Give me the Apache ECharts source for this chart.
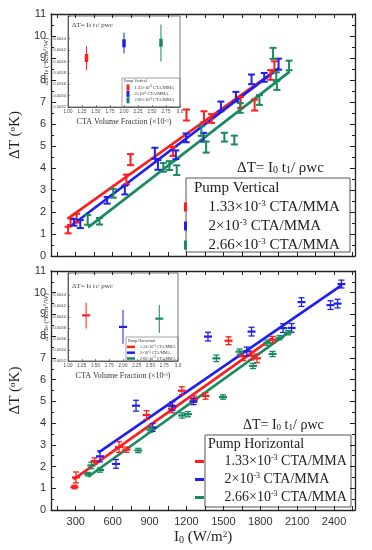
<!DOCTYPE html>
<html><head><meta charset="utf-8">
<script src="https://cdn.jsdelivr.net/npm/echarts@6/dist/echarts.min.js"></script>
<style>html,body{margin:0;padding:0;background:#fff}#c{width:372px;height:550px}</style>
</head><body><div id="c"></div>
<script>
// ---------------- data ----------------
const xTickLabels = [300, 600, 900, 1200, 1500, 1800, 2100, 2400];
const xTickMarks = [150, 300, 450, 600, 750, 900, 1050, 1200, 1350, 1500, 1650, 1800, 1950, 2100, 2250, 2400, 2550];
const insetYLabels = [0.0032, 0.0034, 0.0036, 0.0038, 0.0040, 0.0042, 0.0044, 0.0046];
const seriesKeys = ['c1', 'c2', 'c3'];
const seriesLabels = ['1.33×10{sup|-3} CTA/MMA', '2×10{sup|-3} CTA/MMA', '2.66×10{sup|-3} CTA/MMA'];

// Pump Vertical (top)
const vRedI = [238, 258, 307, 712, 745, 1090, 1200, 1342, 1404, 1640, 1754, 1884, 1915];
const vRedT = [1.18, 1.56, 1.72, 3.48, 4.38, 4.75, 6.41, 6.33, 6.25, 6.98, 6.86, 8.23, 8.6];
const vRedE = [0.15, 0.15, 0.2, 0.22, 0.25, 0.2, 0.25, 0.25, 0.2, 0.25, 0.25, 0.22, 0.25];
const vBlueI = [285, 337, 555, 699, 943, 968, 1114, 1197, 1340, 1480, 1602, 1729, 1832, 1949];
const vBlueT = [1.53, 1.45, 2.53, 3.0, 4.67, 4.14, 4.6, 5.37, 5.4, 6.8, 7.24, 8.03, 8.12, 8.72];
const vBlueE = [0.15, 0.18, 0.15, 0.2, 0.25, 0.22, 0.2, 0.2, 0.2, 0.22, 0.22, 0.22, 0.2, 0.25];
const vGreenI = [397, 493, 605, 1012, 1061, 1121, 1321, 1360, 1508, 1589, 1637, 1793, 1904, 1930, 1935, 2034];
const vGreenT = [1.64, 1.58, 2.85, 4.03, 4.11, 3.9, 5.68, 4.95, 5.4, 5.27, 6.73, 7.09, 9.21, 8.15, 7.77, 8.66];
const vGreenE = [0.22, 0.15, 0.2, 0.2, 0.2, 0.22, 0.22, 0.25, 0.2, 0.2, 0.22, 0.22, 0.25, 0.2, 0.22, 0.22];
const vFitRedI = [238, 1935], vFitRedT = [1.71, 8.48];
const vFitBlueI = [271, 1949], vFitBlueT = [1.41, 8.53];
const vFitGreenI = [401, 2039], vFitGreenT = [1.3, 8.38];

// Pump Horizontal (bottom)
const hRedI = [290, 302, 453, 652, 712, 876, 1082, 1163, 1262, 1355, 1542, 1660, 1729, 1773, 1900];
const hRedT = [1.06, 1.5, 2.25, 2.9, 2.78, 4.37, 4.66, 5.49, 5.1, 5.25, 7.79, 7.08, 7.11, 6.98, 7.84];
const hRedE = [0.08, 0.25, 0.15, 0.25, 0.12, 0.2, 0.18, 0.18, 0.15, 0.15, 0.18, 0.2, 0.2, 0.2, 0.15];
const hBlueI = [497, 627, 790, 925, 1085, 1257, 1375, 1690, 1729, 1985, 2055, 2135, 2371, 2428, 2460];
const hBlueT = [2.47, 2.12, 4.8, 3.8, 4.78, 5.0, 7.98, 7.3, 8.21, 8.37, 8.38, 9.57, 9.43, 9.5, 10.4];
const hBlueE = [0.25, 0.2, 0.25, 0.18, 0.2, 0.15, 0.2, 0.2, 0.2, 0.2, 0.2, 0.2, 0.2, 0.2, 0.18];
const hGreenI = [401, 427, 497, 808, 905, 1165, 1212, 1443, 1497, 1632, 1741, 1858, 1900, 1957, 2027];
const hGreenT = [1.65, 2.05, 1.84, 2.74, 3.7, 4.35, 4.41, 6.98, 5.2, 7.29, 6.63, 7.7, 7.18, 7.93, 8.16];
const hGreenE = [0.08, 0.15, 0.1, 0.1, 0.12, 0.12, 0.12, 0.15, 0.1, 0.12, 0.12, 0.12, 0.12, 0.1, 0.1];
const hFitRedI = [282, 1897], hFitRedT = [1.41, 7.9];
const hFitBlueI = [484, 2462], hFitBlueT = [2.64, 10.35];
const hFitGreenI = [401, 2039], hFitGreenT = [1.53, 8.21];

// Insets: ΔT/I0 vs CTA volume fraction
const insetFrac = [1.33, 2.0, 2.66];
const vInsetMean = [0.00406, 0.00432, 0.00433];
const vInsetLow = [0.00385, 0.00414, 0.00400];
const vInsetHigh = [0.00427, 0.00451, 0.00465];
const hInsetMean = [0.00403, 0.00382, 0.00397];
const hInsetLow = [0.00379, 0.00351, 0.00371];
const hInsetHigh = [0.00426, 0.00413, 0.00422];

// ---------------- styling ----------------
const COLORS = ['#ff1c1c', '#1f1ff0', '#178a5e'];
const SERIF = 'Liberation Serif';
const SANS = 'Liberation Sans';
const AX = '#222';

function labelOf(name) { return seriesLabels[seriesKeys.indexOf(name)]; }

function errSeries(name, I, T, E, color, xi, yi, st) {
  return {
    type: 'custom', name: name, xAxisIndex: xi, yAxisIndex: yi,
    itemStyle: { color: color }, encode: { x: 0, y: 1 },
    data: I.map((v, i) => [v, T[i], E[i]]),
    renderItem: function (params, api) {
      const x = api.value(0), y = api.value(1), e = api.value(2);
      const c = api.coord([x, y]), hi = api.coord([x, y + e]), lo = api.coord([x, y - e]);
      const ls = { stroke: color, lineWidth: st.lw };
      const ch = [
        { type: 'line', shape: { x1: c[0], y1: hi[1], x2: c[0], y2: lo[1] }, style: ls },
        { type: 'line', shape: { x1: c[0] - st.cap, y1: hi[1], x2: c[0] + st.cap, y2: hi[1] }, style: ls },
        { type: 'line', shape: { x1: c[0] - st.cap, y1: lo[1], x2: c[0] + st.cap, y2: lo[1] }, style: ls }
      ];
      if (st.dash) ch.push({ type: 'line', shape: { x1: c[0] - st.dash, y1: c[1], x2: c[0] + st.dash, y2: c[1] }, style: { stroke: color, lineWidth: st.dashW } });
      return { type: 'group', children: ch };
    }
  };
}
function insetSeries(name, idx, mean, low, high, xi, yi, mk) {
  const color = COLORS[idx];
  return {
    type: 'custom', name: name, xAxisIndex: xi, yAxisIndex: yi,
    itemStyle: { color: color }, encode: { x: 0, y: 1 },
    data: [[insetFrac[idx], mean[idx], low[idx], high[idx]]],
    renderItem: function (params, api) {
      const c = api.coord([api.value(0), api.value(1)]);
      const hi = api.coord([api.value(0), api.value(3)]);
      const lo = api.coord([api.value(0), api.value(2)]);
      return { type: 'group', children: [
        { type: 'line', shape: { x1: c[0], y1: hi[1], x2: c[0], y2: lo[1] }, style: { stroke: color, lineWidth: 1 } },
        { type: 'rect', shape: { x: c[0] - mk.w / 2, y: c[1] - mk.h / 2, width: mk.w, height: mk.h }, style: { fill: color } }
      ] };
    }
  };
}
function fitSeries(I, T, color, xi, yi) {
  return {
    type: 'line', name: 'fit', xAxisIndex: xi, yAxisIndex: yi, silent: true,
    showSymbol: false, symbol: 'none', data: I.map((v, i) => [v, T[i]]),
    lineStyle: { color: color, width: 2.6 }, z: 1
  };
}

function mainX(grid, pos, labels, withName) {
  const a = {
    type: 'value', gridIndex: grid, position: pos, min: 100, max: 2570,
    axisLine: { show: true, onZero: false, lineStyle: { color: AX, width: 1.3 } },
    axisTick: { show: true, inside: true, length: 4, customValues: xTickMarks, lineStyle: { color: AX, width: 1 } },
    axisLabel: { show: labels, customValues: xTickLabels, fontFamily: SANS, fontSize: 11, color: '#333', margin: 6,
      formatter: v => String(v) },
    splitLine: { show: false }
  };
  if (withName) {
    a.name = 'I{sub|0} (W/m{sup|2})';
    a.nameLocation = 'middle'; a.nameGap = 20;
    a.nameTextStyle = { fontFamily: SERIF, fontSize: 15, color: '#222',
      rich: { sub: { fontFamily: SERIF, fontSize: 10, verticalAlign: 'bottom' }, sup: { fontFamily: SERIF, fontSize: 9, verticalAlign: 'top' } } };
  }
  return a;
}
function mainY(grid, pos, labels) {
  const a = {
    type: 'value', gridIndex: grid, position: pos, min: 0, max: 11, interval: 1,
    axisLine: { show: true, onZero: false, lineStyle: { color: AX, width: 1.3 } },
    axisTick: { show: true, inside: true, length: 5, lineStyle: { color: AX, width: 1 } },
    minorTick: { show: true, splitNumber: 2, length: 3, lineStyle: { color: AX, width: 1 } },
    axisLabel: { show: labels, fontFamily: SANS, fontSize: 11, color: '#333', margin: 5 },
    splitLine: { show: false }
  };
  if (labels) {
    a.name = 'ΔT ({sup|o}K)'; a.nameLocation = 'middle'; a.nameGap = 17; a.nameRotate = 90;
    a.nameTextStyle = { fontFamily: SERIF, fontSize: 15, color: '#222',
      rich: { sup: { fontFamily: SERIF, fontSize: 9, verticalAlign: 'top' } } };
  }
  return a;
}
function insetX(grid) {
  return {
    type: 'value', gridIndex: grid, min: 1, max: 3, interval: 0.25,
    axisLine: { show: true, onZero: false, lineStyle: { color: '#444', width: 0.8 } },
    axisTick: { show: true, inside: true, length: 2, lineStyle: { color: '#444', width: 0.6 } },
    axisLabel: { fontFamily: SANS, fontSize: 4.5, color: '#444', margin: 2,
      formatter: v => (v === 3 ? '3.0' : v.toFixed(2)) },
    splitLine: { show: false },
    name: 'CTA Volume Fraction (×10{sup|-3})', nameLocation: 'middle', nameGap: 11,
    nameTextStyle: { fontFamily: SERIF, fontSize: 8, color: '#333',
      rich: { sup: { fontFamily: SERIF, fontSize: 5, verticalAlign: 'top' } } }
  };
}
function insetY(grid) {
  return {
    type: 'value', gridIndex: grid, min: 0.0032, max: 0.0048, interval: 0.0002,
    axisLine: { show: true, onZero: false, lineStyle: { color: '#444', width: 0.8 } },
    axisTick: { show: true, inside: true, length: 2, lineStyle: { color: '#444', width: 0.6 } },
    axisLabel: { fontFamily: SANS, fontSize: 4.2, color: '#444', margin: 2, showMaxLabel: false,
      customValues: insetYLabels, formatter: v => v.toFixed(4) },
    splitLine: { show: false },
    name: 'ΔT/I{sub|0} ({sup|o}K.m{sup|2}/W)', nameLocation: 'middle', nameGap: 16, nameRotate: 90,
    nameTextStyle: { fontFamily: SERIF, fontSize: 7, color: '#333',
      rich: { sub: { fontFamily: SERIF, fontSize: 5, verticalAlign: 'bottom' }, sup: { fontFamily: SERIF, fontSize: 5, verticalAlign: 'top' } } }
  };
}

const richMain = (fs) => ({ sup: { fontFamily: SERIF, fontSize: Math.round(fs * 0.6), verticalAlign: 'top' } });

const topSt = { lw: 2, cap: 3.5 };
const botSt = { lw: 1.3, cap: 3, dash: 4, dashW: 2.2 };

const option = {
  animation: false,
  backgroundColor: '#fff',
  grid: [
    { left: 37, top: 14, width: 318, height: 242 },
    { left: 68, top: 16, width: 112, height: 91, show: true, backgroundColor: '#fff', borderColor: '#555', borderWidth: 0.8 },
    { left: 37, top: 271, width: 318, height: 239 },
    { left: 68, top: 273, width: 110, height: 88, show: true, backgroundColor: '#fff', borderColor: '#555', borderWidth: 0.8 }
  ],
  xAxis: [
    mainX(0, 'bottom', false, false),
    mainX(0, 'top', false, false),
    insetX(1),
    mainX(2, 'bottom', true, true),
    mainX(2, 'top', false, false),
    insetX(3)
  ],
  yAxis: [
    mainY(0, 'left', true),
    mainY(0, 'right', false),
    insetY(1),
    mainY(2, 'left', true),
    mainY(2, 'right', false),
    insetY(3)
  ],
  legend: [
    { data: seriesKeys, orient: 'vertical', left: 184, top: 199, padding: 0, itemGap: 3,
      icon: 'path://M0,0h1v3h-1z', itemWidth: 36, itemHeight: 9,
      formatter: labelOf, selectedMode: false,
      textStyle: { fontFamily: SERIF, fontSize: 15, lineHeight: 16, color: '#222', rich: richMain(15) } },
    { data: seriesKeys, orient: 'vertical', left: 126.5, top: 84.5, padding: 0, itemGap: 0.4,
      icon: 'rect', itemWidth: 3, itemHeight: 6, formatter: labelOf, selectedMode: false,
      textStyle: { fontFamily: SERIF, fontSize: 4.5, lineHeight: 5, color: '#333', rich: { sup: { fontFamily: SERIF, fontSize: 3, verticalAlign: 'top' } } } },
    { data: seriesKeys, orient: 'vertical', left: 195, top: 454, padding: 0, itemGap: 3,
      icon: 'path://M0,0h3v1h-3z', itemWidth: 40, itemHeight: 3,
      formatter: labelOf, selectedMode: false,
      textStyle: { fontFamily: SERIF, fontSize: 14, lineHeight: 15, color: '#222', rich: richMain(14) } },
    { data: seriesKeys, orient: 'vertical', left: 127, top: 344.5, padding: 0, itemGap: 1,
      icon: 'rect', itemWidth: 8, itemHeight: 2.5, formatter: labelOf, selectedMode: false,
      textStyle: { fontFamily: SERIF, fontSize: 4, lineHeight: 4.8, color: '#333', rich: { sup: { fontFamily: SERIF, fontSize: 3, verticalAlign: 'top' } } } }
  ],
  graphic: [
    { type: 'rect', shape: { x: 186, y: 178, width: 164, height: 74 }, style: { fill: 'none', stroke: '#555', lineWidth: 1 }, z: 0 },
    { type: 'text', x: 194, y: 188, style: { text: 'Pump Vertical', fontFamily: SERIF, fontSize: 15, fill: '#222', verticalAlign: 'middle' } },
    { type: 'text', x: 237, y: 168, style: { text: 'ΔT= I{sub|0} t{sub|1}/ ρwc', fontFamily: SERIF, fontSize: 15, fill: '#222', verticalAlign: 'middle',
      rich: { sub: { fontFamily: SERIF, fontSize: 10, verticalAlign: 'bottom' } } } },
    { type: 'rect', shape: { x: 205, y: 435, width: 146, height: 72 }, style: { fill: 'none', stroke: '#555', lineWidth: 1 }, z: 0 },
    { type: 'text', x: 208, y: 444, style: { text: 'Pump Horizontal', fontFamily: SERIF, fontSize: 14, fill: '#222', verticalAlign: 'middle' } },
    { type: 'text', x: 243, y: 425, style: { text: 'ΔT= I{sub|0} t{sub|1}/ ρwc', fontFamily: SERIF, fontSize: 14, fill: '#222', verticalAlign: 'middle',
      rich: { sub: { fontFamily: SERIF, fontSize: 9, verticalAlign: 'bottom' } } } },
    // inset texts
    { type: 'text', x: 72, y: 25, style: { text: 'ΔT= I{sub|0} t{sub|1}/ ρwc', fontFamily: SERIF, fontSize: 7, fill: '#333', verticalAlign: 'middle',
      rich: { sub: { fontFamily: SERIF, fontSize: 5, verticalAlign: 'bottom' } } }, z: 10 },
    { type: 'rect', shape: { x: 122, y: 78, width: 58, height: 29 }, style: { fill: 'none', stroke: '#666', lineWidth: 0.6 }, z: 10 },
    { type: 'text', x: 124, y: 81, style: { text: 'Pump Vertical', fontFamily: SERIF, fontSize: 4, fill: '#333', verticalAlign: 'middle' }, z: 10 },
    { type: 'text', x: 72, y: 286, style: { text: 'ΔT= I{sub|0} t{sub|1}/ ρwc', fontFamily: SERIF, fontSize: 7, fill: '#333', verticalAlign: 'middle',
      rich: { sub: { fontFamily: SERIF, fontSize: 5, verticalAlign: 'bottom' } } }, z: 10 },
    { type: 'rect', shape: { x: 126, y: 337, width: 52, height: 24 }, style: { fill: 'none', stroke: '#666', lineWidth: 0.6 }, z: 10 },
    { type: 'text', x: 128, y: 340.5, style: { text: 'Pump Horizontal', fontFamily: SERIF, fontSize: 4, fill: '#333', verticalAlign: 'middle' }, z: 10 }
  ],
  series: [
    fitSeries(vFitRedI, vFitRedT, COLORS[0], 0, 0),
    fitSeries(vFitBlueI, vFitBlueT, COLORS[1], 0, 0),
    fitSeries(vFitGreenI, vFitGreenT, COLORS[2], 0, 0),
    errSeries('c1', vRedI, vRedT, vRedE, COLORS[0], 0, 0, topSt),
    errSeries('c2', vBlueI, vBlueT, vBlueE, COLORS[1], 0, 0, topSt),
    errSeries('c3', vGreenI, vGreenT, vGreenE, COLORS[2], 0, 0, topSt),
    insetSeries('c1', 0, vInsetMean, vInsetLow, vInsetHigh, 2, 2, { w: 3.5, h: 8 }),
    insetSeries('c2', 1, vInsetMean, vInsetLow, vInsetHigh, 2, 2, { w: 3.5, h: 8 }),
    insetSeries('c3', 2, vInsetMean, vInsetLow, vInsetHigh, 2, 2, { w: 3.5, h: 8 }),
    fitSeries(hFitRedI, hFitRedT, COLORS[0], 3, 3),
    fitSeries(hFitBlueI, hFitBlueT, COLORS[1], 3, 3),
    fitSeries(hFitGreenI, hFitGreenT, COLORS[2], 3, 3),
    errSeries('c1', hRedI, hRedT, hRedE, COLORS[0], 3, 3, botSt),
    errSeries('c2', hBlueI, hBlueT, hBlueE, COLORS[1], 3, 3, botSt),
    errSeries('c3', hGreenI, hGreenT, hGreenE, COLORS[2], 3, 3, botSt),
    insetSeries('c1', 0, hInsetMean, hInsetLow, hInsetHigh, 5, 5, { w: 8, h: 2.2 }),
    insetSeries('c2', 1, hInsetMean, hInsetLow, hInsetHigh, 5, 5, { w: 8, h: 2.2 }),
    insetSeries('c3', 2, hInsetMean, hInsetLow, hInsetHigh, 5, 5, { w: 8, h: 2.2 })
  ]
};
const chart = echarts.init(document.getElementById('c'), null, { renderer: 'canvas' });
chart.setOption(option);
</script>
</body></html>
